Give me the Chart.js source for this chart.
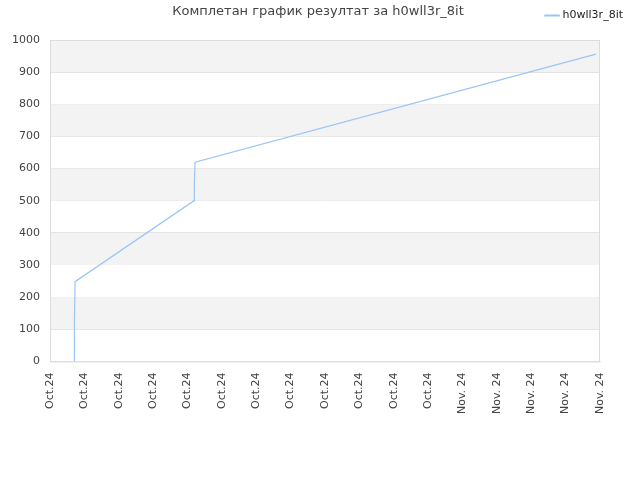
<!DOCTYPE html>
<html><head><meta charset="utf-8">
<script src="https://cdn.jsdelivr.net/npm/chart.js@4"></script>
<style>html,body{margin:0;padding:0;background:#fff}#wrap{width:640px;height:480px}</style>
</head><body><div id="wrap"><canvas id="c" width="640" height="480"></canvas></div>
<script>
const titleText = "Комплетан график резултат за h0wll3r_8it";
const seriesName = "h0wll3r_8it";
const tickLabels = ["Oct.24","Oct.24","Oct.24","Oct.24","Oct.24","Oct.24","Oct.24","Oct.24","Oct.24","Oct.24","Oct.24","Oct.24","Nov. 24","Nov. 24","Nov. 24","Nov. 24","Nov. 24"];
const xValues = [0.70, 0.71, 0.73, 4.19, 4.20, 4.22, 15.88];
const yValues = [0, 122, 248, 500, 560, 620, 956];

const bands = {
  id: 'bands',
  beforeDatasetsDraw(chart) {
    const {ctx, chartArea:a, scales:{y}} = chart;
    ctx.save();
    ctx.fillStyle = '#f3f3f3';
    for (let v = 100; v < 1000; v += 200) {
      const t = y.getPixelForValue(v + 100), b = y.getPixelForValue(v);
      ctx.fillRect(a.left, t, a.right - a.left, b - t);
    }
    ctx.restore();
  },
  afterDatasetsDraw(chart) {
    const {ctx, chartArea:a} = chart;
    ctx.save();
    ctx.strokeStyle = '#dcdcdc';
    ctx.lineWidth = 1;
    ctx.strokeRect(a.left + 0.5, a.top + 0.5, a.right - a.left - 1, a.bottom - a.top);
    ctx.restore();
  },
  afterDraw(chart) {
    const {ctx} = chart;
    ctx.save();
    ctx.font = '13px "DejaVu Sans"';
    ctx.fillStyle = '#444';
    ctx.textAlign = 'center';
    ctx.textBaseline = 'middle';
    ctx.fillText(titleText, 318, 12);
    ctx.restore();
  }
};

new Chart(document.getElementById('c'), {
  type: 'line',
  data: {
    datasets: [{
      label: seriesName,
      data: xValues.map((x, i) => ({x, y: yValues[i]})),
      borderColor: '#9ac5f4',
      backgroundColor: '#9ac5f4',
      borderWidth: 1.2,
      pointRadius: 0,
      tension: 0,
      fill: false
    }]
  },
  options: {
    responsive: false,
    animation: false,
    devicePixelRatio: 1,
    layout: { padding: { left: 0, right: 7, top: 0, bottom: 63 } },
    plugins: {
      title: { display: false },
      tooltip: { enabled: false },
      legend: {
        position: 'top',
        align: 'end',
        labels: {
          usePointStyle: true,
          pointStyle: 'line',
          boxWidth: 10,
          font: { family: 'DejaVu Sans', size: 11 },
          color: '#222',
          padding: 10,
          generateLabels(chart) {
            const items = Chart.defaults.plugins.legend.labels.generateLabels(chart);
            items.forEach(it => { it.lineWidth = 2; });
            return items;
          }
        }
      }
    },
    scales: {
      x: {
        type: 'linear',
        min: 0, max: 16,
        border: { display: true, color: '#dcdcdc' },
        grid: { display: false },
        ticks: {
          stepSize: 1,
          autoSkip: false,
          maxRotation: 90, minRotation: 90,
          font: { family: 'DejaVu Sans', size: 11 },
          color: '#444',
          callback: (v) => tickLabels[v]
        }
      },
      xTop: {
        type: 'linear',
        position: 'top',
        display: true,
        grid: { display: false },
        border: { display: false },
        ticks: { display: false },
        afterFit(s) { s.height = 9; }
      },
      y: {
        min: 0, max: 1000,
        border: { display: true, color: '#dcdcdc' },
        grid: { color: '#e0e0e0', drawTicks: false },
        afterFit(s) { s.width = 50; },
        ticks: {
          stepSize: 100,
          padding: 10,
          font: { family: 'DejaVu Sans', size: 11 },
          color: '#444',
          callback: (v) => String(v)
        }
      },
      yRight: {
        position: 'right',
        display: true,
        grid: { display: false },
        border: { display: false },
        ticks: { display: false },
        afterFit(s) { s.width = 33; }
      }
    }
  },
  plugins: [bands]
});
</script></body></html>
